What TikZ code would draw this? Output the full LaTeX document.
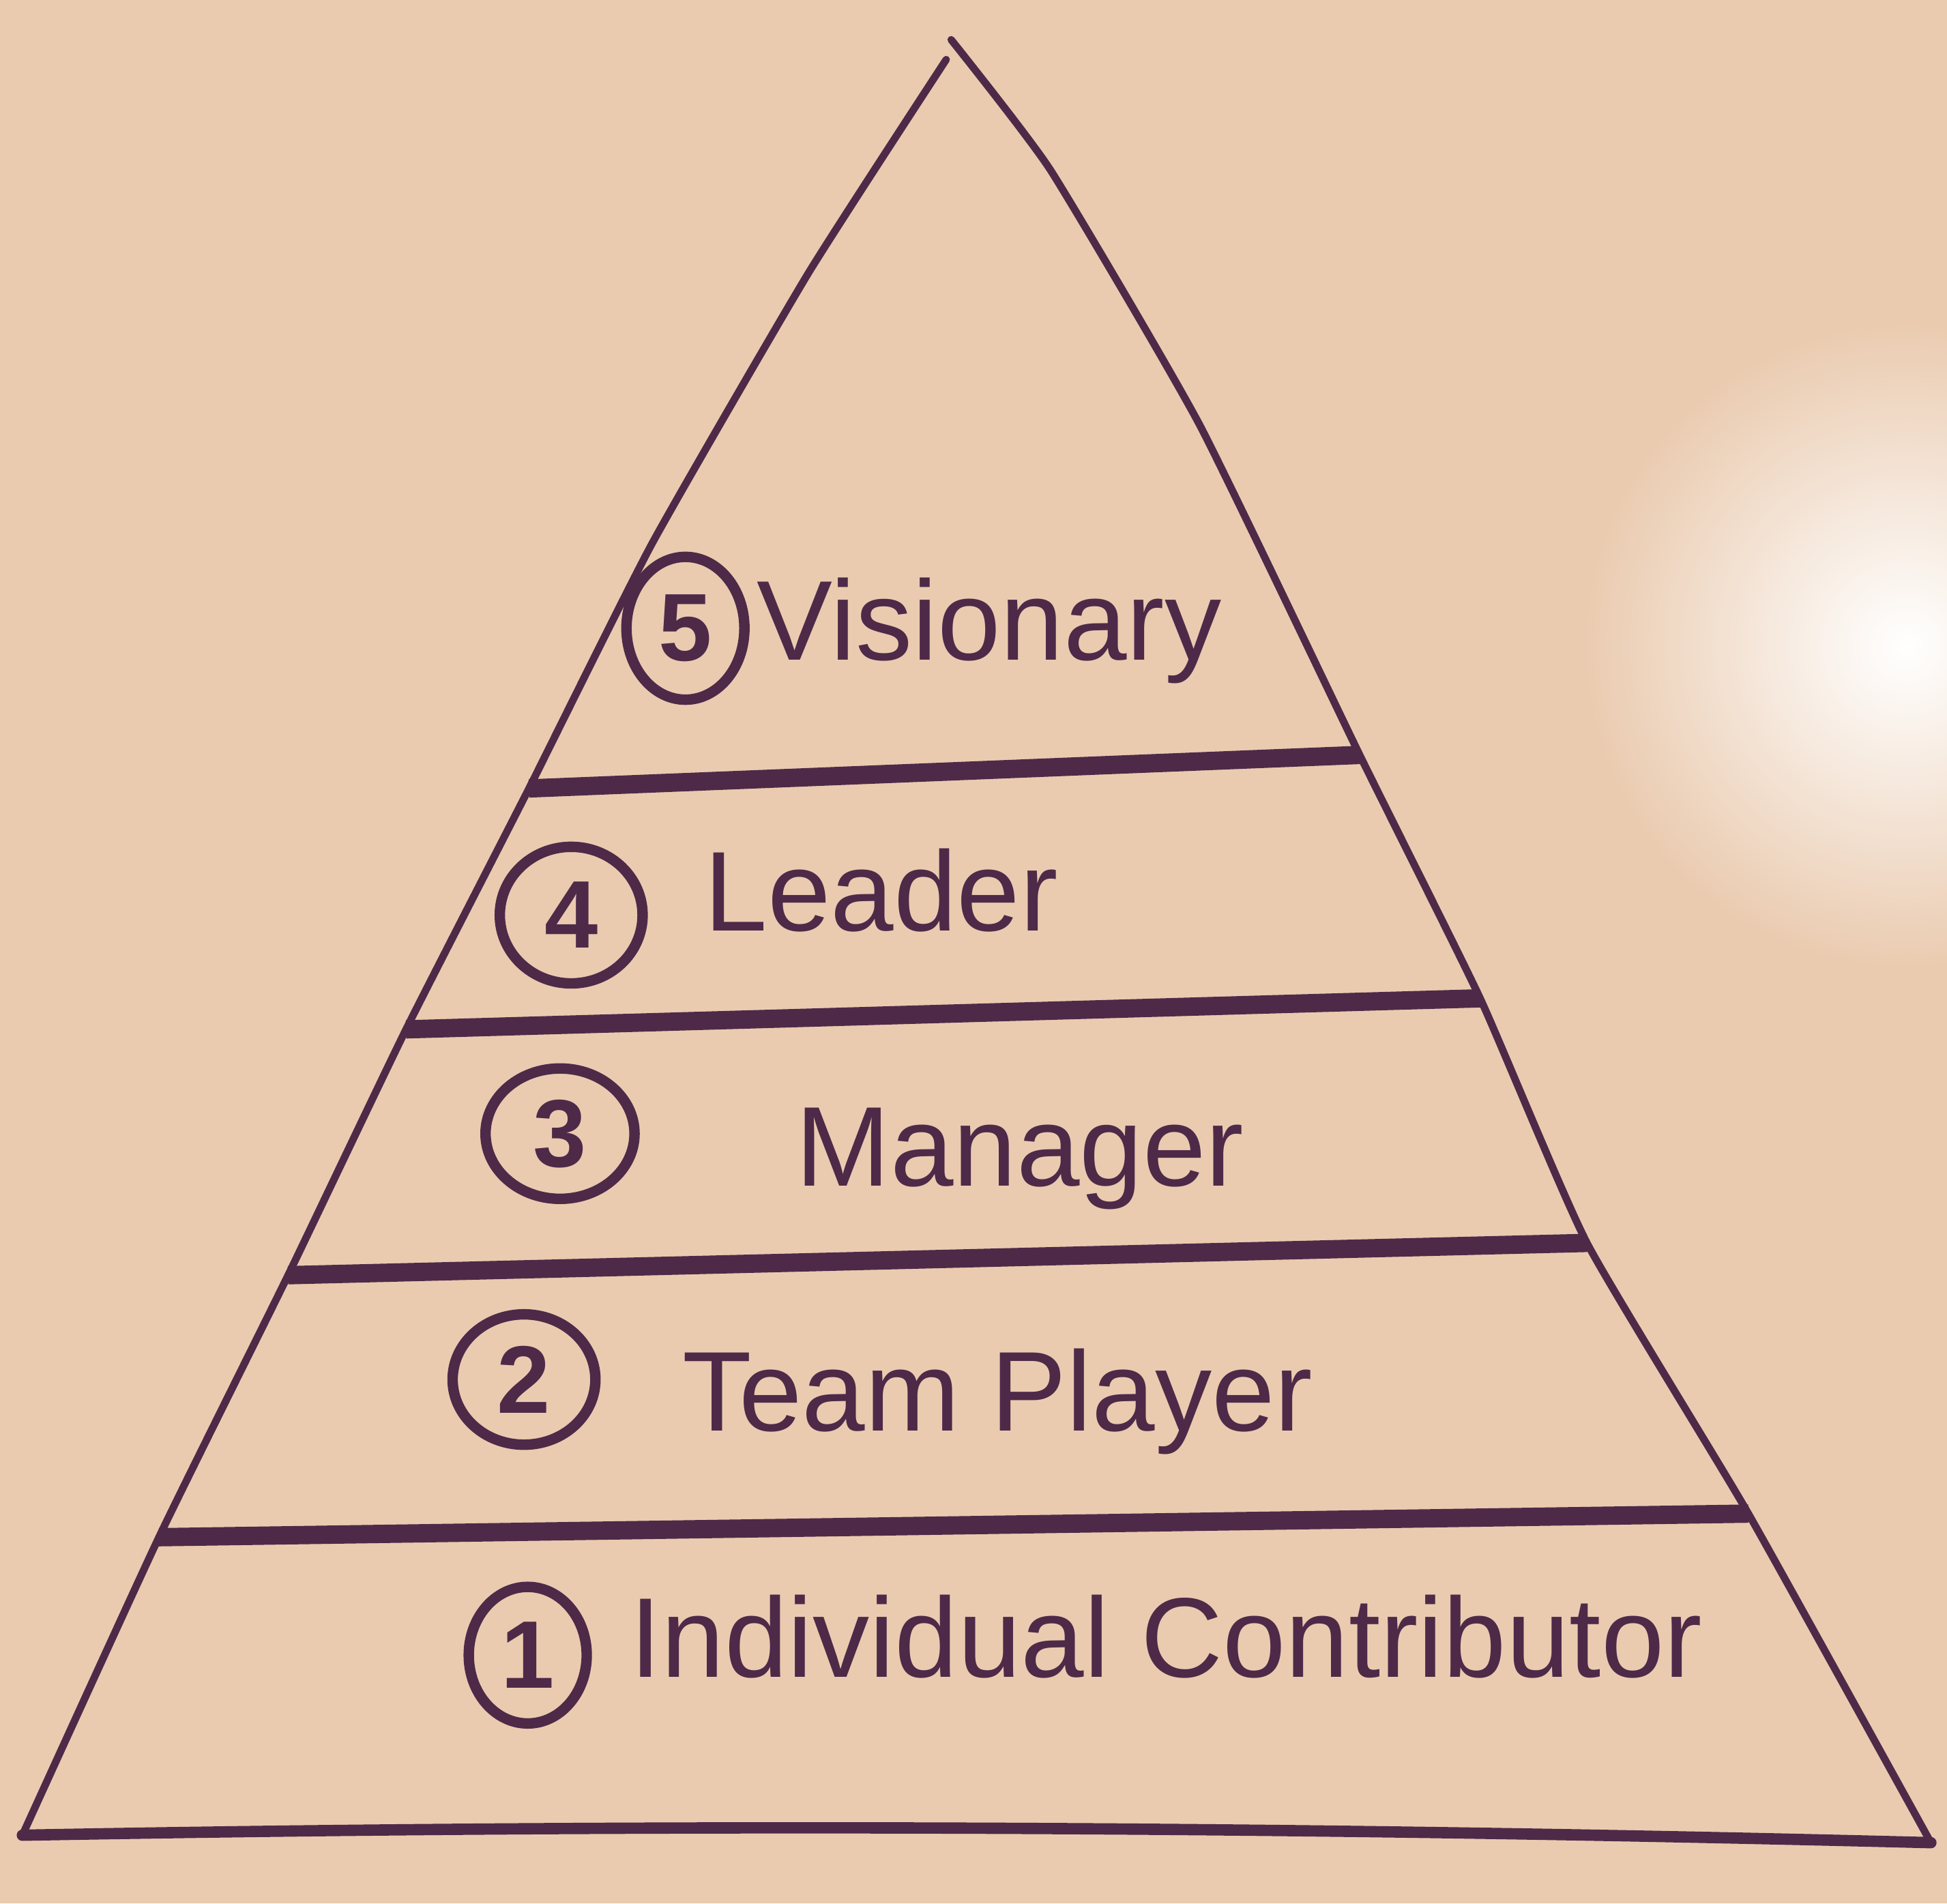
\documentclass[tikz,border=0pt]{standalone}
\usepackage{fontspec}
\setmainfont{Liberation Sans}
\usetikzlibrary{positioning,shapes.geometric}
\definecolor{board}{HTML}{EACBB0}
\definecolor{ink}{HTML}{4E2A48}
\tikzset{
  side/.style={draw=ink, line width=1.7pt, line cap=round, line join=round},
  tier/.style={draw=ink, line width=4.2pt},
  base/.style={draw=ink, line width=2.6pt, line cap=round},
  num/.style={draw=ink, ellipse, line width=2.4pt, minimum width=1.15cm, minimum height=1.05cm,
    inner sep=0pt, text=ink, font=\fontsize{22}{24}\selectfont\bfseries},
  lbl/.style={text=ink, font=\fontsize{26}{30}\selectfont, inner sep=0pt}
}
\begin{document}
\begin{tikzpicture}
        \useasboundingbox (0,0) rectangle (15.68,15.33);
        \fill [board] (0,0) rectangle (15.68,15.33);
        \begin{scope}
            \clip (0,0) rectangle (15.68,15.33);
            \shade [inner color=white, outer color=board] (15.35,10.13) circle (2.6);
        \end{scope}
        % corners
        \coordinate (apexl) at (7.62,14.85);
        \coordinate (apex) at (7.66,15.01);
        \coordinate (bl) at (0.18,0.55);
        \coordinate (br) at (15.55,0.49);
        \coordinate (ll) at (6.51,13.13);
        \coordinate (lm) at (5.25,10.95);
        \coordinate (rr) at (8.46,13.96);
        \coordinate (rm) at (9.66,11.91);
        % tiers
        \coordinate (l1a) at (4.26,8.98);  \coordinate (l1b) at (10.95,9.25);
        \coordinate (l2a) at (3.27,7.04);  \coordinate (l2b) at (11.92,7.29);
        \coordinate (l3a) at (2.32,5.06);  \coordinate (l3b) at (12.78,5.32);
        \coordinate (l4a) at (1.28,2.95);  \coordinate (l4b) at (14.08,3.14);
        % the pyramid
        \draw [side] plot [smooth, tension=0.3] coordinates
            {(apexl) (ll) (lm) (l1a) (l2a) (l3a) (l4a) (bl)};
        \draw [side] plot [smooth, tension=0.3] coordinates
            {(apex) (rr) (rm) (l1b) (l2b) (l3b) (l4b) (br)};
        \draw [base] (bl) .. controls (5.5,0.65) and (10.5,0.62) .. (br);
        \foreach \i in {1,...,4}
            {\draw [tier] (l\i a) -- (l\i b);}
        % levels
        \node [num, minimum width=0.95cm, minimum height=1.15cm] (c5) at (5.52,10.27) {5};
        \node [num, minimum height=1.1cm] (c4) at (4.60,7.96) {4};
        \node [num, minimum width=1.2cm] (c3) at (4.51,6.20) {3};
        \node [num] (c2) at (4.22,4.22) {2};
        \node [num, minimum width=0.95cm, minimum height=1.1cm] (c1) at (4.25,2.00) {1};
        \node [lbl, right=0.05cm of c5, yshift=-0.02cm] (t5) {Visionary};
        \node [lbl, right=0.45cm of c4, yshift=0.2cm] (t4) {Leader};
        \node [lbl, right=1.25cm of c3, yshift=-0.2cm] (t3) {Manager};
        \node [lbl, right=0.65cm of c2, yshift=-0.18cm] (t2) {Team Player};
        \node [lbl, right=0.3cm of c1, yshift=0.15cm] (t1) {Individual Contributor};
    \end{tikzpicture}
\end{document}
